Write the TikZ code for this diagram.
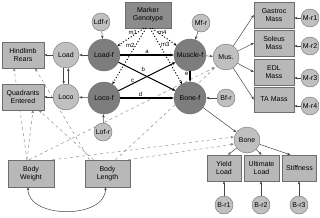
\documentclass[tikz,border=0pt]{standalone}
\usepackage{fontspec}
\setmainfont{Liberation Sans}
\usetikzlibrary{arrows.meta,backgrounds}
\definecolor{facgray}{RGB}{125,125,125}
\definecolor{latgray}{RGB}{192,192,192}
\definecolor{boxgray}{RGB}{184,184,184}
\definecolor{genogray}{RGB}{140,140,140}
\definecolor{rimgray}{RGB}{110,110,110}
\definecolor{linkgray}{RGB}{70,70,70}
\definecolor{dashgray}{RGB}{125,125,125}

\begin{document}
\begin{tikzpicture}[x=1pt,y=-1pt,font=\fontsize{7}{8}\selectfont,
    >={Stealth[length=3.2pt,width=2.6pt]},
    fac/.style={circle, draw=rimgray, fill=facgray, minimum size=32pt, inner sep=0pt},
    lat/.style={circle, draw=rimgray, fill=latgray, minimum size=26pt, inner sep=0pt},
    resid/.style={circle, draw=rimgray, fill=latgray, minimum size=18pt, inner sep=0pt},
    obs/.style={rectangle, draw=rimgray, fill=boxgray, minimum width=42pt, minimum height=26pt, align=center, inner sep=1pt},
    link/.style={->, draw=linkgray, line width=0.5pt},
    strong/.style={->, line width=1.1pt},
    marker/.style={->, line width=1pt, dotted},
    cov/.style={->, dashed, draw=dashgray, line width=0.4pt},
    lbl/.style={font=\fontsize{6}{6}\selectfont, inner sep=1pt}]
    \useasboundingbox (0,0) rectangle (320,217);

    % genotype and factors
    \node[obs, fill=genogray, minimum width=46pt] (geno) at (148,15) {Marker\\Genotype};
    \node[fac] (loadf) at (104,55) {Load-f};
    \node[fac] (locof) at (104,98) {Loco-f};
    \node[fac] (musf) at (190,55) {Muscle-f};
    \node[fac] (bonef) at (190,98) {Bone-f};
    \node[resid] (ldfr) at (101,22) {Ldf-r};
    \node[resid] (lofr) at (103,132) {Lof-r};
    \node[resid] (mfr) at (201,23) {Mf-r};
    \node[resid] (bfr) at (226,98) {Bf-r};

    % behaviour side
    \node[lat] (load) at (66,55) {Load};
    \node[lat] (loco) at (66,97) {Loco};
    \node[obs] (hind) at (23,55) {Hindlimb\\Rears};
    \node[obs] (quad) at (23,97) {Quadrants\\Entered};
    \node[obs, minimum width=46pt, minimum height=27pt] (bw) at (31,173.5) {Body\\Weight};
    \node[obs, minimum width=45pt, minimum height=27pt] (bl) at (107.5,173.5) {Body\\Length};

    % muscle side
    \node[lat] (mus) at (226,57) {Mus.};
    \node[obs, minimum width=40pt] (gas) at (274,15) {Gastroc\\Mass};
    \node[obs, minimum width=40pt] (sol) at (274,43) {Soleus\\Mass};
    \node[obs, minimum width=40pt] (edl) at (274,72) {EDL\\Mass};
    \node[obs, minimum width=40pt, minimum height=25pt] (ta) at (274,99.5) {TA Mass};
    \node[resid] (mr1) at (310,18) {M-r1};
    \node[resid] (mr2) at (310,46) {M-r2};
    \node[resid] (mr3) at (310,78) {M-r3};
    \node[resid] (mr4) at (310,106) {M-r4};

    % bone side
    \node[lat] (bone) at (247,140) {Bone};
    \node[obs, minimum width=34pt] (yield) at (224,168) {Yield\\Load};
    \node[obs, minimum width=35pt] (ult) at (261.5,168) {Ultimate\\Load};
    \node[obs, minimum width=34pt] (stiff) at (299.5,168) {Stiffness};
    \node[resid] (br1) at (224,205) {B-r1};
    \node[resid] (br2) at (261,205) {B-r2};
    \node[resid] (br3) at (299,205) {B-r3};

    % marker effects
    \draw[marker] ([xshift=-4pt]geno.south) -- (loadf) node[lbl, pos=0.42, above] {m1};
    \draw[marker] ([xshift=-2pt]geno.south) -- (locof) node[lbl, pos=0.3, left] {m2};
    \draw[marker] ([xshift=2pt]geno.south) -- (bonef) node[lbl, pos=0.3, right] {m3};
    \draw[marker] ([xshift=4pt]geno.south) -- (musf) node[lbl, pos=0.42, above] {m4};

    % factor paths
    \draw[strong] (loadf) -- (musf) node[lbl, midway, above] {a};
    \draw[strong] (loadf) -- (bonef) node[lbl, pos=0.38, above right] {b};
    \draw[strong] (locof) -- (musf) node[lbl, pos=0.25, above] {c};
    \draw[strong] (locof) -- (bonef) node[lbl, pos=0.38, above] {d};
    \draw[strong] (musf) -- (bonef) node[lbl, pos=0.3, left] {e};

    % residuals and loadings
    \draw[link] (ldfr) -- (loadf);
    \draw[link] (lofr) -- (locof);
    \draw[link] (mfr) -- (musf);
    \draw[link] (bfr) -- (bonef);
    \draw[link] (loadf) -- (load);
    \draw[link] (locof) -- (loco);
    \draw[link] (load) -- (hind);
    \draw[link] (loco) -- (quad);
    \draw[link] (load.-100) -- (loco.100);
    \draw[link] (loco.80) -- (load.-80);
    \draw[link] (musf) -- (mus);
    \draw[link] (bonef) -- (bone);
    \draw[link] (mus) -- (gas.west);
    \draw[link] (mus) -- (sol.west);
    \draw[link] (mus) -- (edl.west);
    \draw[link] (mus) -- (ta.west);
    \draw[link] (mr1) -- (mr1 -| gas.east);
    \draw[link] (mr2) -- (mr2 -| sol.east);
    \draw[link] (mr3) -- (mr3 -| edl.east);
    \draw[link] (mr4) -- (mr4 -| ta.east);
    \draw[link] (bone) -- ([xshift=4pt]yield.north);
    \draw[link] (bone) -- (ult.north);
    \draw[link] (bone) -- ([xshift=8pt]stiff.north west);
    \draw[link] (br1) -- (br1 |- yield.south);
    \draw[link] (br2) -- (br2 |- ult.south);
    \draw[link] (br3) -- (br3 |- stiff.south);
    \draw[link, <->] ([xshift=-3pt]bw.south) .. controls +(0,32) and +(0,32) .. ([xshift=-2pt]bl.south);

    % body size covariates
    \begin{pgfonlayer}{background}
        \draw[cov] ([xshift=-4pt]bw.north) -- ([xshift=-9pt]hind.south);
        \draw[cov] ([xshift=-4pt]bw.north) -- ([xshift=10pt]quad.south);
        \draw[cov] ([xshift=-14pt]bl.north) -- ([xshift=16pt]quad.south);
        \draw[cov] ([xshift=-18pt]bl.north) -- ([xshift=12pt]hind.south);
        \draw[cov] ([xshift=-2pt]bw.north) -- ([xshift=-2pt,yshift=-1pt]mus.south west);
        \draw[cov] ([xshift=8pt]bl.north) -- ([xshift=2pt,yshift=2pt]mus.south west);
        \draw[cov] ([xshift=-2pt]bw.north east) -- ([yshift=3pt]bone.west);
        \draw[cov] ([xshift=-2pt]bl.north east) -- ([yshift=-4pt]bone.west);
    \end{pgfonlayer}
\end{tikzpicture}
\end{document}
